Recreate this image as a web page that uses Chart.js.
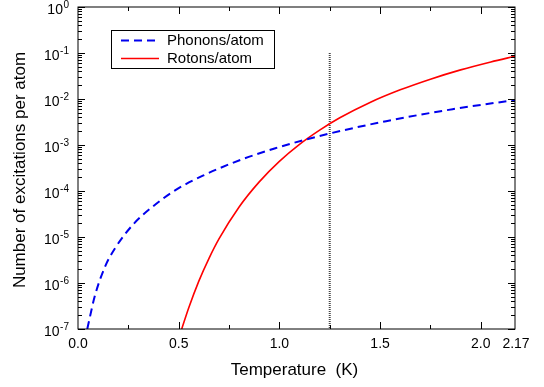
<!DOCTYPE html>
<html>
<head>
<meta charset="utf-8">
<script src="https://cdn.jsdelivr.net/npm/chart.js@4.4.1/dist/chart.umd.min.js"></script>
<style>
    html, body { margin: 0; padding: 0; background: #fff; }
    canvas { display: block; }
</style>
</head>
<body>
<canvas id="chart" width="544" height="387"></canvas>
<script>
// Values
const phononTemp = [0.046, 0.084, 0.134, 0.184, 0.275, 0.366, 0.48, 0.62, 0.81, 0.98, 1.11, 1.25, 1.53, 1.86, 2.17];
const phononCount = [1.0e-7, 5.3e-7, 2.25e-6, 5.7e-6, 1.9e-5, 4.4e-5, 1.02e-4, 2.15e-4, 4.8e-4, 8.5e-4, 1.24e-3, 1.78e-3, 3.3e-3, 6.0e-3, 9.5e-3];

const rotonTemp = [0.515, 0.55, 0.60, 0.65, 0.70, 0.80, 0.90, 1.00, 1.10, 1.20, 1.30, 1.45, 1.60, 1.75, 1.90, 2.05, 2.17];
const rotonCount = [1.0e-7, 2.9e-7, 1.1e-6, 3.4e-6, 9.1e-6, 4.5e-5, 1.58e-4, 4.4e-4, 1.03e-3, 2.1e-3, 3.9e-3, 8.4e-3, 1.58e-2, 2.7e-2, 4.3e-2, 6.4e-2, 8.5e-2];

// dotted marker line at T = 1.25 K
const markerTemp = [1.25, 1.25];
const markerCount = [1e-1, 1e-7];

const xTickValues = [0, 0.5, 1.0, 1.5, 2.0, 2.17];
const xTickLabels = ['0.0', '0.5', '1.0', '1.5', '2.0', '2.17'];
const xMinorTicks = [0.25, 0.75, 1.25, 1.75];
const yDecades = [-7, -6, -5, -4, -3, -2, -1, 0];

const FONT = '"Liberation Sans", Arial, sans-serif';

function toPoints(xs, ys) {
    return xs.map((x, i) => ({ x: x, y: ys[i] }));
}

// draws the frame, inward ticks, tick labels, axis titles and the legend
const framePlugin = {
    id: 'frame',
    afterDraw(chart) {
        const ctx = chart.ctx;
        const area = chart.chartArea;
        const xs = chart.scales.x;
        const ys = chart.scales.y;

        ctx.save();
        ctx.strokeStyle = '#000';
        ctx.lineWidth = 1;
        ctx.strokeRect(area.left, area.top, area.right - area.left, area.bottom - area.top);

        ctx.beginPath();
        // x ticks, bottom and top
        const drawXTick = (v, len) => {
            const px = Math.round(xs.getPixelForValue(v)) + 0.5;
            ctx.moveTo(px, area.bottom);
            ctx.lineTo(px, area.bottom - len);
            ctx.moveTo(px, area.top);
            ctx.lineTo(px, area.top + len);
        };
        xTickValues.slice(1, 5).forEach(v => drawXTick(v, 7));
        xMinorTicks.forEach(v => drawXTick(v, 4));

        // y ticks, left and right (log decades with minors)
        yDecades.forEach(e => {
            for (let m = 1; m <= 9; m++) {
                if (e === 0 && m > 1) break;
                const v = m * Math.pow(10, e);
                const py = Math.round(ys.getPixelForValue(v)) + 0.5;
                const len = m === 1 ? 7 : 4;
                ctx.moveTo(area.left, py);
                ctx.lineTo(area.left + len, py);
                ctx.moveTo(area.right, py);
                ctx.lineTo(area.right - len, py);
            }
        });
        ctx.stroke();

        // x tick labels
        ctx.fillStyle = '#000';
        ctx.font = '14px ' + FONT;
        ctx.textAlign = 'center';
        ctx.textBaseline = 'alphabetic';
        xTickValues.forEach((v, i) => {
            let px = xs.getPixelForValue(v);
            if (v === 2.17) px += 1;
            ctx.fillText(xTickLabels[i], px, 348);
        });

        // y tick labels as 10 with superscript exponent
        yDecades.forEach(e => {
            const py = ys.getPixelForValue(Math.pow(10, e));
            const exp = String(e);
            ctx.font = '10px ' + FONT;
            ctx.textAlign = 'right';
            ctx.fillText(exp, 69, py + 1);
            const w = ctx.measureText(exp).width;
            ctx.font = '14px ' + FONT;
            ctx.fillText('10', 69 - w - 0.5, py + 7);
        });

        // axis titles
        ctx.font = '17px ' + FONT;
        ctx.textAlign = 'center';
        ctx.fillText('Temperature  (K)', (area.left + area.right) / 2 - 2, 375);
        ctx.save();
        ctx.translate(25, (area.top + area.bottom) / 2 + 2);
        ctx.rotate(-Math.PI / 2);
        ctx.fillText('Number of excitations per atom', 0, 0);
        ctx.restore();

        // legend box
        ctx.fillStyle = '#fff';
        ctx.fillRect(111.5, 30.5, 163, 38);
        ctx.strokeStyle = '#000';
        ctx.lineWidth = 1;
        ctx.strokeRect(111.5, 30.5, 163, 38);
        const entries = [
            { ds: chart.data.datasets[0], y: 40.5 },
            { ds: chart.data.datasets[1], y: 58.5 }
        ];
        entries.forEach(en => {
            ctx.beginPath();
            ctx.strokeStyle = en.ds.borderColor;
            ctx.lineWidth = en.ds.borderWidth;
            ctx.setLineDash(en.ds.borderDash || []);
            ctx.moveTo(121, en.y);
            ctx.lineTo(159, en.y);
            ctx.stroke();
            ctx.setLineDash([]);
            ctx.fillStyle = '#000';
            ctx.font = '15px ' + FONT;
            ctx.textAlign = 'left';
            ctx.fillText(en.ds.label, 167, en.y + 4.5);
        });
        ctx.restore();
    }
};

const ctx = document.getElementById('chart').getContext('2d');
new Chart(ctx, {
    type: 'line',
    data: {
        datasets: [{
            label: 'Phonons/atom',
            data: toPoints(phononTemp, phononCount),
            borderColor: '#0000ee',
            borderWidth: 2,
            borderDash: [8, 5],
            pointRadius: 0,
            cubicInterpolationMode: 'monotone',
            fill: false
        }, {
            label: 'Rotons/atom',
            data: toPoints(rotonTemp, rotonCount),
            borderColor: '#ff0000',
            borderWidth: 1.6,
            pointRadius: 0,
            cubicInterpolationMode: 'monotone',
            fill: false
        }, {
            label: 'marker',
            data: toPoints(markerTemp, markerCount),
            borderColor: '#444',
            borderWidth: 2,
            borderDash: [1, 1],
            pointRadius: 0,
            fill: false
        }]
    },
    options: {
        responsive: false,
        animation: false,
        devicePixelRatio: 1,
        layout: { padding: { left: 78, right: 29, top: 7, bottom: 58 } },
        plugins: {
            legend: { display: false },
            tooltip: { enabled: false }
        },
        scales: {
            x: { type: 'linear', min: 0, max: 2.17, display: false },
            y: { type: 'logarithmic', min: 1e-7, max: 1, display: false }
        }
    },
    plugins: [framePlugin]
});
</script>
</body>
</html>
